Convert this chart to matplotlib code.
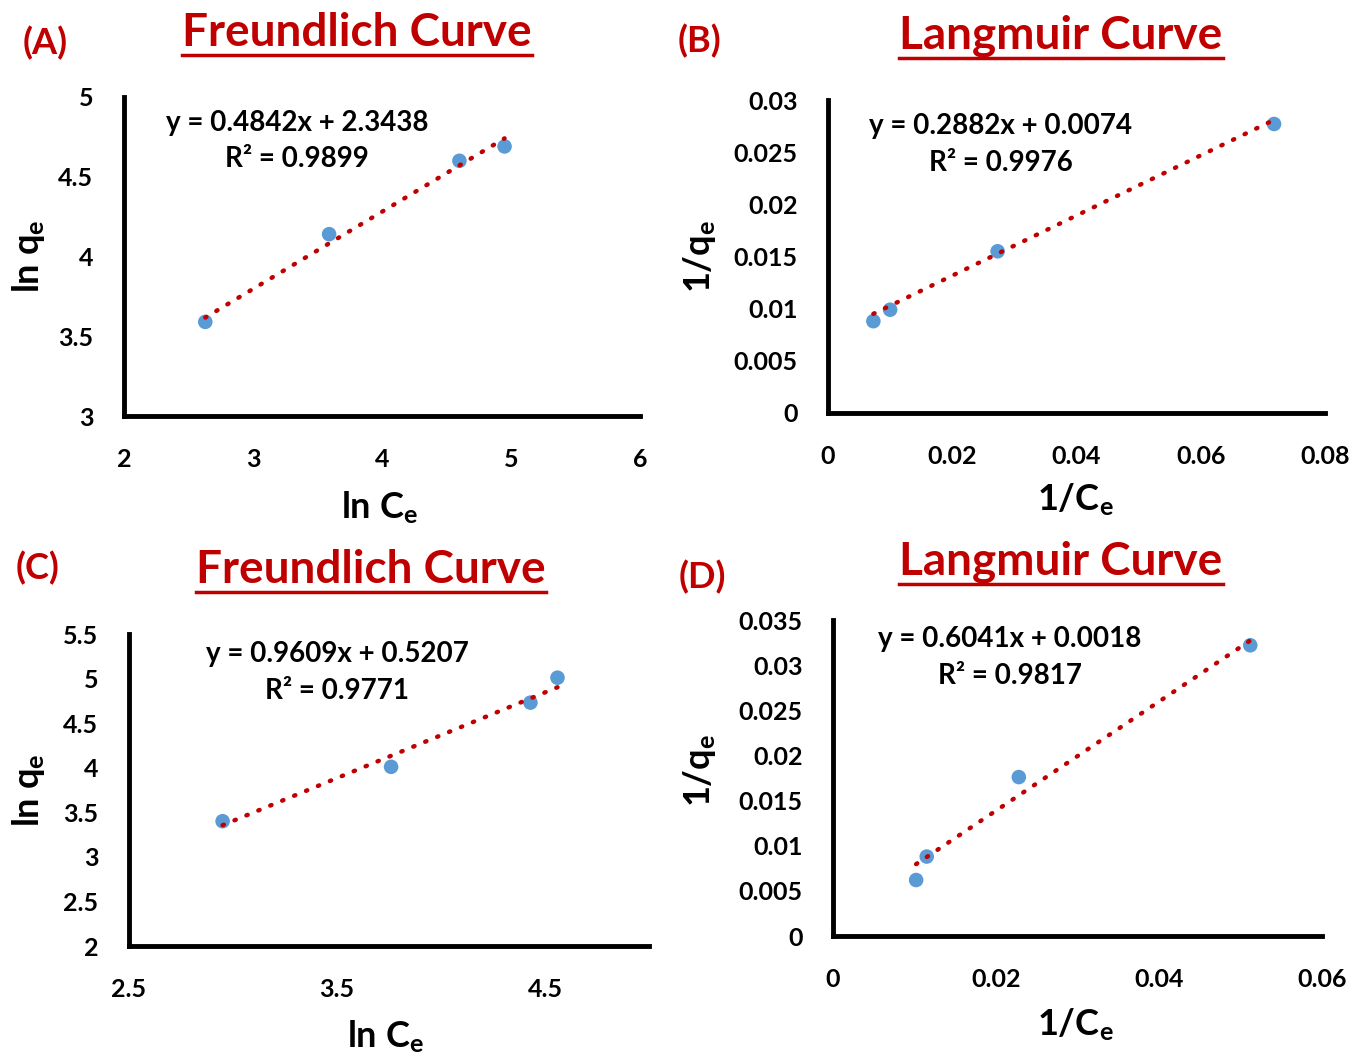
import matplotlib
matplotlib.use("Agg")
import matplotlib.pyplot as plt
from matplotlib.lines import Line2D
import numpy as np

plt.rcParams['font.family'] = ['Lato', 'DejaVu Sans']
plt.rcParams['font.weight'] = 'bold'
plt.rcParams['mathtext.fontset'] = 'custom'
plt.rcParams['mathtext.rm'] = 'Lato:bold'
plt.rcParams['mathtext.bf'] = 'Lato:bold'
plt.rcParams['mathtext.it'] = 'Lato:bold'

# (A) Freundlich
a_x = [2.63, 3.59, 4.60, 4.95]
a_y = [3.59, 4.14, 4.60, 4.69]
a_fit = (0.4842, 2.3438)
a_eq = "y = 0.4842x + 2.3438\nR² = 0.9899"

# (B) Langmuir
b_x = [0.0073, 0.0100, 0.0273, 0.0718]
b_y = [0.0088, 0.0099, 0.0155, 0.0277]
b_fit = (0.2882, 0.0074)
b_eq = "y = 0.2882x + 0.0074\nR² = 0.9976"

# (C) Freundlich
c_x = [2.95, 3.76, 4.43, 4.56]
c_y = [3.40, 4.01, 4.73, 5.01]
c_fit = (0.9609, 0.5207)
c_eq = "y = 0.9609x + 0.5207\nR² = 0.9771"

# (D) Langmuir
d_x = [0.0102, 0.0115, 0.0228, 0.0512]
d_y = [0.0062, 0.0088, 0.0176, 0.0322]
d_fit = (0.6041, 0.0018)
d_eq = "y = 0.6041x + 0.0018\nR² = 0.9817"

a_xticks = [2, 3, 4, 5, 6]
a_yticks = [3, 3.5, 4, 4.5, 5]
b_xticks = [0, 0.02, 0.04, 0.06, 0.08]
b_yticks = [0, 0.005, 0.01, 0.015, 0.02, 0.025, 0.03]
c_xticks = [2.5, 3.5, 4.5]
c_yticks = [2, 2.5, 3, 3.5, 4, 4.5, 5, 5.5]
d_xticks = [0, 0.02, 0.04, 0.06]
d_yticks = [0, 0.005, 0.01, 0.015, 0.02, 0.025, 0.03, 0.035]

RED = '#C00000'
BLUE = '#5B9BD5'
W, H = 1360, 1059

fig = plt.figure(figsize=(W / 100, H / 100), dpi=100)


def px_axes(l, t, r, b):
    return fig.add_axes([l / W, 1 - b / H, (r - l) / W, (b - t) / H])


def panel(ax, x, y, fit, eq, eqpos, xticks, yticks, xlim, ylim,
          xlabel, ylabel, xlab_pos, ylab_pos):
    ax.scatter(x, y, s=110, color=BLUE, zorder=3, edgecolors='none')
    xf = np.array([min(x), max(x)])
    ax.plot(xf, fit[0] * xf + fit[1], linestyle=(0, (0.3, 2.6)), color=RED,
            lw=3.2, zorder=4, dash_capstyle='round')
    ax.set_xlim(xlim)
    ax.set_ylim(ylim)
    ax.set_xticks(xticks)
    ax.set_yticks(yticks)
    ax.set_xticklabels([f"{v:g}" for v in xticks], fontweight='bold')
    ax.set_yticklabels([f"{v:g}" for v in yticks], fontweight='bold')
    ax.tick_params(length=0, labelsize=18, pad=22)
    ax.tick_params(axis='x', pad=23)
    for s in ['top', 'right']:
        ax.spines[s].set_visible(False)
    for s in ['left', 'bottom']:
        ax.spines[s].set_linewidth(3.5)
    ax.set_xlabel(xlabel, fontsize=26, fontweight='bold', va='center')
    ax.set_ylabel(ylabel, fontsize=26, fontweight='bold', va='center')
    ax.xaxis.set_label_coords(*xlab_pos)
    ax.yaxis.set_label_coords(*ylab_pos)
    ax.text(eqpos[0], eqpos[1], eq, transform=ax.transAxes, ha='center',
            va='center', fontsize=20, fontweight='bold', linespacing=1.5)


ax_a = px_axes(124, 97, 640, 416)
panel(ax_a, a_x, a_y, a_fit, a_eq, (0.335, 0.862), a_xticks, a_yticks,
      (2, 6), (3, 5), r"ln C$_\mathrm{e}$", r"ln q$_\mathrm{e}$",
      (0.496, -0.288), (-0.186, 0.5))

ax_b = px_axes(828, 100, 1325, 413)
panel(ax_b, b_x, b_y, b_fit, b_eq, (0.348, 0.858), b_xticks, b_yticks,
      (0, 0.08), (0, 0.03), r"1/C$_\mathrm{e}$", r"1/q$_\mathrm{e}$",
      (0.497, -0.278), (-0.258, 0.5))

ax_c = px_axes(129, 634, 649, 946)
panel(ax_c, c_x, c_y, c_fit, c_eq, (0.40, 0.876), c_xticks, c_yticks,
      (2.5, 5), (2, 5.5), r"ln C$_\mathrm{e}$", r"ln q$_\mathrm{e}$",
      (0.494, -0.292), (-0.194, 0.5))

ax_d = px_axes(833, 620, 1322, 936)
panel(ax_d, d_x, d_y, d_fit, d_eq, (0.362, 0.881), d_xticks, d_yticks,
      (0, 0.06), (0, 0.035), r"1/C$_\mathrm{e}$", r"1/q$_\mathrm{e}$",
      (0.495, -0.282), (-0.272, 0.525))

titles = [("Freundlich Curve", 357, 33), ("Langmuir Curve", 1061, 36),
          ("Freundlich Curve", 371, 570), ("Langmuir Curve", 1061, 562)]
tags = [("(A)", 45, 43), ("(B)", 700, 41), ("(C)", 38, 568), ("(D)", 702, 577)]

title_texts = []
for t, x, y in titles:
    title_texts.append(fig.text(x / W, 1 - y / H, t, ha='center', va='center',
                                fontsize=33, fontweight='bold', color=RED))
for t, x, y in tags:
    fig.text(x / W, 1 - y / H, t, ha='center', va='center', fontsize=26,
             fontweight='bold', color=RED)

# underline the titles
fig.canvas.draw()
renderer = fig.canvas.get_renderer()
for tt in title_texts:
    bb = tt.get_window_extent(renderer)
    yline = (bb.y0 - 1) / H
    fig.add_artist(Line2D([bb.x0 / W, bb.x1 / W], [yline, yline], color=RED, lw=2.5))

fig.savefig("out.png", dpi=100)
